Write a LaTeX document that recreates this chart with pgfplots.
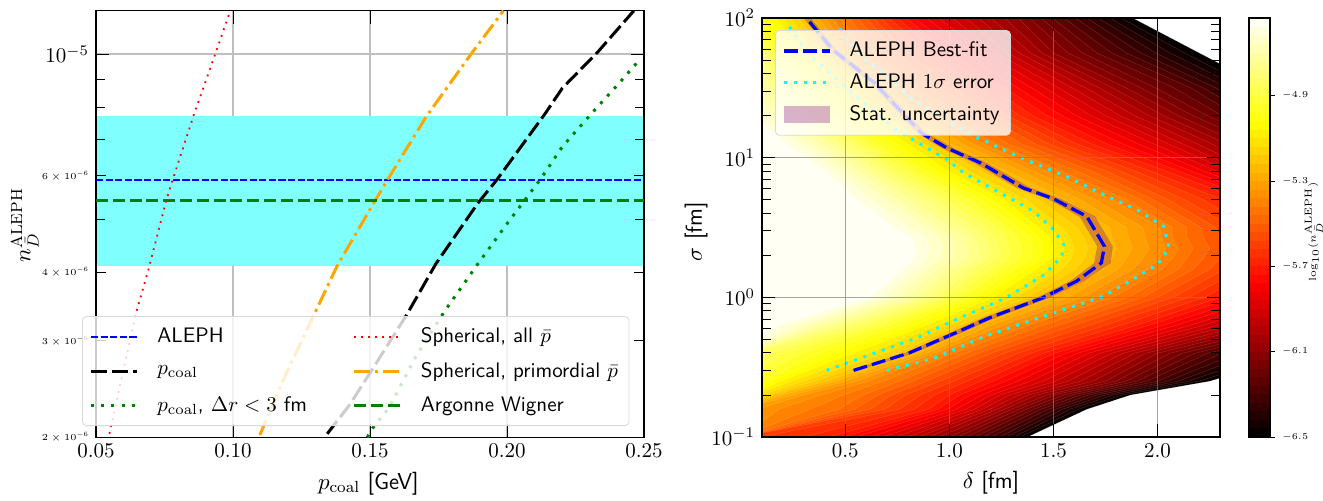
\documentclass[border=0pt]{standalone}
\usepackage{fix-cm}
\usepackage{pgfplots}
\usepackage{pgfplotstable}
\pgfplotsset{compat=1.18}
\definecolor{statcol}{rgb}{.5,0,.5}
\definecolor{bandcyan}{rgb}{.5,1,1}
\definecolor{mplorange}{rgb}{1,.647,0}
\definecolor{mplcyan}{rgb}{0,1,1}
\definecolor{mplgreen}{rgb}{0,.5,0}
\definecolor{mplblue}{rgb}{0,0,1}
\definecolor{mplred}{rgb}{1,0,0}
\newcommand\fs[1]{\fontsize{#1}{#1}\selectfont}
% delta position of each contour level (columns) at each sigma (rows)
\pgfplotstableread[header=false]{
0.1 0 0 0 0 0 0 0 0 0 0 0 0 0 0 0 0 0 0 0 0 0 0 0 0 0 0 0 0 0 0 0 0 0 0 0 0 0 0 0 0 0 0 0 0 0 0 0 0 0
0.1 1.375 1.34 1.31 1.275 1.24 1.20 1.16 1.12 1.08 1.04 1.00 .95 .90 .85 .80 .74 .68 .62 .55 .49 .42 .30 .10 0 0 0 0 0 0 0 0 0 0 0 0 0 0 0 0 0 0 0 0 0 0 0 0 0 0
0.158 1.66 1.62 1.58 1.545 1.51 1.475 1.44 1.405 1.37 1.335 1.30 1.265 1.23 1.195 1.16 1.12 1.08 1.035 .99 .945 .90 .83 .76 .69 .62 .545 .47 .33 .18 .08 0 0 0 0 0 0 0 0 0 0 0 0 0 0 0 0 0 0 0
0.2 1.87 1.83 1.79 1.75 1.71 1.67 1.63 1.59 1.55 1.505 1.47 1.42 1.38 1.335 1.29 1.245 1.20 1.155 1.10 1.05 1.00 .93 .86 .79 .72 .655 .585 .49 .385 .30 .25 .20 .16 .13 .10 .07 .05 .03 .02 0 0 0 0 0 0 0 0 0 0
0.251 2.25 2.20 2.15 2.10 2.05 2.00 1.95 1.90 1.85 1.80 1.75 1.69 1.63 1.57 1.51 1.45 1.39 1.33 1.27 1.21 1.15 1.085 1.02 .955 .89 .825 .76 .685 .61 .555 .50 .455 .41 .355 .30 .245 .19 .145 .10 .05 0 0 0 0 0 0 0 0 0
0.398 2.70 2.62 2.54 2.46 2.38 2.31 2.24 2.18 2.12 2.06 2.00 1.945 1.89 1.835 1.78 1.725 1.67 1.615 1.56 1.505 1.45 1.39 1.33 1.265 1.20 1.14 1.08 1.02 .96 .925 .89 .85 .81 .75 .69 .615 .54 .46 .38 .29 .20 .125 .05 .02 0 0 0 0 0
0.631 3.20 3.12 3.05 3.00 2.95 2.87 2.80 2.74 2.68 2.61 2.55 2.48 2.42 2.35 2.29 2.22 2.16 2.09 2.03 1.96 1.90 1.825 1.75 1.675 1.60 1.525 1.45 1.38 1.31 1.255 1.20 1.15 1.10 1.05 1.00 .945 .89 .83 .77 .71 .65 .59 .53 .47 .41 .355 .30 .24 .18
1 3.60 3.52 3.45 3.40 3.35 3.30 3.25 3.20 3.15 3.07 3.00 2.93 2.86 2.79 2.72 2.65 2.58 2.51 2.44 2.37 2.30 2.225 2.15 2.075 2.00 1.93 1.86 1.785 1.71 1.64 1.57 1.50 1.43 1.375 1.32 1.265 1.21 1.16 1.11 1.065 1.02 .98 .94 .89 .84 .785 .73 .675 .62
1.585 3.80 3.75 3.70 3.65 3.60 3.55 3.50 3.45 3.40 3.35 3.30 3.22 3.15 3.07 3.00 2.92 2.85 2.77 2.70 2.62 2.55 2.47 2.40 2.32 2.25 2.17 2.10 2.02 1.95 1.88 1.81 1.74 1.67 1.605 1.54 1.48 1.42 1.365 1.31 1.255 1.20 1.15 1.10 1.05 1.00 .945 .89 .835 .78
1.9 3.95 3.9 3.85 3.8 3.75 3.7 3.65 3.6 3.55 3.5 3.45 3.35 3.25 3.2 3.15 3.08 3.01 2.92 2.83 2.74 2.66 2.57 2.48 2.39 2.30 2.22 2.14 2.07 2.01 1.93 1.85 1.78 1.71 1.65 1.585 1.535 1.49 1.44 1.39 1.335 1.28 1.23 1.18 1.13 1.08 1.02 .96 .895 .83
2.24 4.00 3.95 3.90 3.85 3.80 3.75 3.70 3.65 3.60 3.55 3.50 3.40 3.30 3.25 3.20 3.13 3.06 2.97 2.88 2.79 2.70 2.61 2.52 2.42 2.33 2.25 2.17 2.10 2.04 1.96 1.88 1.80 1.73 1.665 1.60 1.55 1.50 1.45 1.40 1.345 1.29 1.24 1.19 1.14 1.09 1.03 .97 .905 .84
2.7 3.95 3.9 3.85 3.8 3.75 3.7 3.65 3.6 3.55 3.5 3.45 3.35 3.25 3.2 3.15 3.08 3.01 2.92 2.83 2.74 2.66 2.57 2.48 2.39 2.30 2.22 2.14 2.07 2.02 1.94 1.86 1.78 1.71 1.645 1.58 1.53 1.48 1.43 1.38 1.325 1.27 1.22 1.17 1.12 1.07 1.01 .95 .885 .82
3.16 3.90 3.85 3.80 3.75 3.70 3.65 3.60 3.55 3.50 3.45 3.40 3.32 3.24 3.16 3.08 3.00 2.92 2.84 2.76 2.68 2.60 2.52 2.44 2.36 2.28 2.21 2.14 2.07 2.01 1.93 1.85 1.77 1.69 1.615 1.54 1.485 1.43 1.38 1.33 1.28 1.23 1.175 1.12 1.06 1.00 .94 .88 .81 .74
5.01 3.80 3.72 3.65 3.57 3.50 3.42 3.35 3.27 3.20 3.12 3.05 2.98 2.92 2.85 2.79 2.72 2.66 2.59 2.53 2.46 2.40 2.31 2.22 2.13 2.05 1.98 1.92 1.85 1.78 1.70 1.63 1.56 1.49 1.43 1.37 1.315 1.26 1.205 1.15 1.095 1.04 .985 .93 .87 .81 .75 .69 .625 .56
7.94 3.30 3.23 3.17 3.10 3.04 2.97 2.91 2.84 2.78 2.71 2.65 2.59 2.53 2.47 2.41 2.35 2.29 2.23 2.17 2.11 2.05 1.975 1.90 1.83 1.76 1.69 1.62 1.545 1.47 1.41 1.35 1.28 1.21 1.155 1.10 1.05 1.00 .945 .89 .845 .80 .75 .70 .655 .61 .56 .51 .46 .41
12.6 3.10 3.03 2.96 2.89 2.82 2.75 2.68 2.61 2.54 2.47 2.40 2.33 2.26 2.19 2.12 2.05 1.98 1.905 1.83 1.755 1.68 1.61 1.54 1.475 1.41 1.345 1.28 1.22 1.16 1.11 1.06 1.005 .95 .915 .88 .84 .80 .745 .69 .645 .60 .56 .52 .475 .43 .38 .33 .275 .22
20 2.80 2.73 2.66 2.59 2.52 2.45 2.38 2.31 2.24 2.17 2.10 2.03 1.96 1.89 1.82 1.75 1.68 1.61 1.54 1.47 1.40 1.34 1.28 1.225 1.17 1.115 1.06 1.00 .94 .895 .85 .805 .76 .725 .69 .645 .60 .55 .50 .455 .41 .365 .32 .28 .24 .195 .15 .10 .05
31.6 2.52 2.46 2.40 2.34 2.28 2.22 2.16 2.08 1.99 1.92 1.85 1.785 1.72 1.655 1.59 1.525 1.46 1.395 1.33 1.265 1.20 1.14 1.08 1.02 .96 .905 .85 .80 .75 .725 .70 .67 .64 .59 .54 .495 .45 .405 .36 .325 .29 .255 .22 .18 .14 .10 .06 .03 0
56.2 2.20 2.13 2.06 1.99 1.92 1.85 1.78 1.71 1.64 1.57 1.50 1.445 1.39 1.335 1.28 1.225 1.17 1.115 1.06 1.005 .95 .90 .85 .80 .75 .70 .65 .60 .55 .525 .50 .475 .45 .405 .36 .325 .29 .25 .21 .185 .16 .135 .11 .075 .04 .02 0 0 0
100 1.88 1.825 1.77 1.715 1.66 1.605 1.55 1.495 1.44 1.385 1.33 1.265 1.20 1.14 1.08 1.015 .95 .89 .83 .79 .75 .71 .67 .635 .60 .56 .52 .48 .44 .405 .37 .34 .31 .275 .24 .205 .17 .13 .09 .055 .02 0 0 0 0 0 0 0 0
100 0 0 0 0 0 0 0 0 0 0 0 0 0 0 0 0 0 0 0 0 0 0 0 0 0 0 0 0 0 0 0 0 0 0 0 0 0 0 0 0 0 0 0 0 0 0 0 0 0
}\contab
\newcommand\hotcalc[1]{%
 \pgfmathsetmacro\hr{min(1,(#1)/0.365)}%
 \pgfmathsetmacro\hg{max(0,min(1,((#1)-0.365)/0.381))}%
 \pgfmathsetmacro\hb{max(0,min(1,((#1)-0.746)/0.254))}}
\pgfplotsset{
 commonax/.style={scale only axis, tick align=inside,
  major tick length=6.5pt, minor tick length=4.5pt,
  tick style={black,line width=.45pt}, axis line style={line width=.6pt},
  tick label style={font=\fs{10.5}}, label style={font=\fs{11.5}},
  legend image code/.code={\draw[##1] (0pt,0pt) -- (23pt,0pt);}},
}
\begin{document}
\begin{tikzpicture}
\path[use as bounding box] (0,0) rectangle (661.5pt,250pt);
% left: background with grid and band
\begin{axis}[at={(48pt,31.35pt)},anchor=south west,scale only axis,width=274pt,height=213.3pt,
 xmin=0.05,xmax=0.25,ymin=2e-6,ymax=1.2e-5,ymode=log,
 xtick={0.10,0.15,0.20},ytick={1e-5},minor ytick={},
 xticklabels={},yticklabels={},major tick length=0pt,minor tick length=0pt,
 grid=major,major grid style={black!25,line width=.7pt},axis line style={draw=none}]
\addplot[fill=bandcyan,draw=none] coordinates {(0.05,4.1e-6)(0.25,4.1e-6)(0.25,7.72e-6)(0.05,7.72e-6)} -- cycle;
\end{axis}
% left: curves
\begin{axis}[commonax,at={(48pt,31.35pt)},anchor=south west,width=274pt,height=213.3pt,
 xmin=0.05,xmax=0.25,ymin=2e-6,ymax=1.2e-5,ymode=log,
 xtick={0.05,0.10,0.15,0.20,0.25},
 xticklabel style={/pgf/number format/fixed,/pgf/number format/fixed zerofill,/pgf/number format/precision=2},
 ytick={1e-5},minor ytick={5e-6,7e-6,8e-6,9e-6},
 extra y ticks={2e-6,3e-6,4e-6,6e-6},
 extra y tick labels={$2\times10^{-6}$,$3\times10^{-6}$,$4\times10^{-6}$,$6\times10^{-6}$},
 extra y tick style={yticklabel style={font=\fs{4.6}},major tick length=5pt},
 xlabel={$p_{\mathrm{coal}}$ {\sffamily [GeV]}},
 ylabel={$n_{\bar{D}}^{\mathrm{ALEPH}}$},
 xlabel style={at={(axis description cs:0.497,-0.108)},anchor=center},
 ylabel style={at={(axis description cs:-0.13,0.497)},anchor=center},
 legend columns=2,legend cell align=left,
 legend style={at={(-0.0255,0.0265)},anchor=south west,font=\sffamily\fs{10.5},
  draw=black!15,fill=white,fill opacity=.8,text opacity=1,draw opacity=1,rounded corners=2pt,
  inner xsep=3.5pt,inner ysep=3.6pt,row sep=4.2pt,
  /tikz/every odd column/.append style={column sep=7.5pt},
  /tikz/every even column/.append style={column sep=21pt}},
]
\addplot[forget plot,mplblue,line width=.75pt,dash pattern=on 3.6pt off 1.2pt] coordinates {(0.05,5.9e-6)(0.25,5.9e-6)};
\addplot[forget plot,black,line width=1.5pt,dash pattern=on 8pt off 2.6pt] coordinates {(.1344,2.03e-6)(.1425,2.29e-6)(.1502,2.63e-6)(.1633,3.34e-6)(.1741,4.15e-6)(.1894,5.35e-6)(.1963,5.9e-6)(.2140,7.8e-6)(.2202,8.67e-6)(.2332,1.01e-5)(.2463,1.2e-5)};
\addplot[forget plot,mplgreen,line width=1.5pt,dash pattern=on 1.5pt off 3.6pt] coordinates {(.1490,2.0e-6)(.1510,2.08e-6)(.1571,2.27e-6)(.1664,2.79e-6)(.1771,3.39e-6)(.1887,4.10e-6)(.2002,4.92e-6)(.2125,5.94e-6)(.2202,6.78e-6)(.2309,7.8e-6)(.2402,8.77e-6)(.2489,9.83e-6)};
\addplot[forget plot,mplred,line width=.9pt,dash pattern=on .9pt off 2.6pt] coordinates {(.0549,2.03e-6)(.0646,3.37e-6)(.0691,4.04e-6)(.0757,5.42e-6)(.0780,5.9e-6)(.0857,7.75e-6)(.0934,9.97e-6)(.0990,1.2e-5)};
\addplot[forget plot,mplorange,line width=1.5pt,dash pattern=on 8pt off 2.4pt on 1.5pt off 2.4pt] coordinates {(.1098,2.02e-6)(.1195,2.62e-6)(.1295,3.34e-6)(.1379,4.10e-6)(.1502,5.23e-6)(.1564,5.9e-6)(.1705,7.69e-6)(.1871,1.004e-5)(.1987,1.2e-5)};
\addplot[forget plot,mplgreen,line width=1.5pt,dash pattern=on 6pt off 2.4pt] coordinates {(0.05,5.4e-6)(0.25,5.4e-6)};
\addlegendimage{mplblue,line width=.75pt,dash pattern=on 3.6pt off 1.2pt}\addlegendentry{ALEPH}
\addlegendimage{mplred,line width=.9pt,dash pattern=on .9pt off 2.6pt}\addlegendentry{Spherical, all $\bar{p}$}
\addlegendimage{black,line width=1.5pt,dash pattern=on 8pt off 2.6pt}\addlegendentry{$p_{\mathrm{coal}}$}
\addlegendimage{mplorange,line width=1.5pt,dash pattern=on 8pt off 2.4pt on 1.5pt off 2.4pt}\addlegendentry{Spherical, primordial $\bar{p}$}
\addlegendimage{mplgreen,line width=1.5pt,dash pattern=on 1.5pt off 3.6pt}\addlegendentry{$p_{\mathrm{coal}}$, $\Delta r<3$ fm}
\addlegendimage{mplgreen,line width=1.5pt,dash pattern=on 6pt off 2.4pt}\addlegendentry{Argonne Wigner}
\end{axis}
% right: contours
\begin{axis}[commonax,axis on top,at={(381pt,31.5pt)},anchor=south west,width=229pt,height=209.5pt,
 xmin=0.1,xmax=2.3,ymin=0.1,ymax=100,ymode=log,
 xtick={0.5,1.0,1.5,2.0},
 xticklabel style={/pgf/number format/fixed,/pgf/number format/fixed zerofill,/pgf/number format/precision=1},
 grid=major,major grid style={gray,line width=.7pt,opacity=.7},
 xlabel={$\delta$ {\sffamily [fm]}},ylabel={$\sigma$ {\sffamily [fm]}},
 xlabel style={at={(axis description cs:0.5,-0.11)},anchor=center},
 ylabel style={at={(axis description cs:-0.144,0.49)},anchor=center},
 legend cell align=left,
 legend style={at={(0.0284,0.971)},anchor=north west,font=\sffamily\fs{10.5},
  draw=black!15,fill=white,fill opacity=.8,text opacity=1,draw opacity=1,rounded corners=2pt,
  inner xsep=3.5pt,inner ysep=3.8pt,row sep=3pt,
  /tikz/every odd column/.append style={column sep=7pt}},
]
\pgfplotsforeachungrouped \i in {1,...,49}{%
 \pgfmathsetmacro\tv{(\i-0.5)*0.04/1.964}%
 \hotcalc{\tv}%
 \edef\tmp{\noexpand\addplot[forget plot,fill={rgb,1:red,\hr;green,\hg;blue,\hb},draw=white,draw opacity=.2,line width=.15pt] table[x index=\i,y index=0] {\noexpand\contab};}\tmp
}
\addplot[forget plot,fill=statcol,fill opacity=.3,draw=none] coordinates {(.56,.30)(.83,.399)(1.04,.541)(1.22,.711)(1.48,.989)(1.645,1.303)(1.775,1.762)(1.785,2.317)(1.70,3.80)(1.535,5.08)(1.39,6.07)(1.18,9.16)(1.02,11.7)(.89,15)(.66,34.3)(.46,59.3)(.335,100)(.30,100)(.42,59.3)(.62,34.3)(.845,15)(.965,11.7)(1.12,9.16)(1.325,6.07)(1.47,5.08)(1.625,3.80)(1.71,2.317)(1.695,1.762)(1.58,1.303)(1.415,.989)(1.16,.711)(.985,.541)(.785,.399)(.53,.30)} -- cycle;
\addplot[forget plot,mplblue,line width=1.6pt,dash pattern=on 7pt off 2.6pt] coordinates {(.54,.30)(.805,.399)(1.01,.541)(1.19,.711)(1.446,.989)(1.61,1.303)(1.73,1.762)(1.745,2.317)(1.66,3.80)(1.50,5.08)(1.355,6.07)(1.15,9.16)(.99,11.7)(.866,15)(.64,34.3)(.44,59.3)(.317,98.4)(.31,100)};
\addplot[forget plot,mplcyan,line width=1.5pt,dash pattern=on 1.5pt off 3.4pt] coordinates {(.41,.30)(.62,.389)(.846,.513)(1.03,.692)(1.27,.989)(1.456,1.452)(1.54,1.968)(1.55,2.382)(1.50,3.05)(1.405,4.13)(1.23,5.74)(1.07,7.76)(.99,9.68)(.745,15.8)(.5,32)(.32,56)(.225,89.5)};
\addplot[forget plot,mplcyan,line width=1.5pt,dash pattern=on 1.5pt off 3.4pt] coordinates {(.70,.30)(.93,.368)(1.17,.526)(1.50,.773)(1.74,1.016)(2.0,1.714)(2.055,2.254)(2.03,3.22)(1.90,4.25)(1.76,5.28)(1.56,7.35)(1.33,10.2)(1.09,15)(.826,26)(.58,53.2)(.45,92)};
\addlegendimage{mplblue,line width=1.6pt,dash pattern=on 7pt off 2.6pt}\addlegendentry{ALEPH Best-fit}
\addlegendimage{mplcyan,line width=1.5pt,dash pattern=on 1.5pt off 3.4pt}\addlegendentry{ALEPH $1\sigma$ error}
\addlegendimage{legend image code/.code={\fill[statcol,fill opacity=.3,draw=none,sharp corners] (0pt,-4pt) rectangle (23pt,4.2pt);}}\addlegendentry{Stat. uncertainty}
\end{axis}
% colour bar
\begin{axis}[scale only axis,at={(624.5pt,31.5pt)},anchor=south west,width=10.5pt,height=209.5pt,
 xmin=0,xmax=1,ymin=-6.5,ymax=-4.536,xtick=\empty,
 ytick={-6.5,-6.1,-5.7,-5.3,-4.9},ytick pos=right,yticklabel pos=right,tick align=outside,
 major tick length=2.5pt,tick style={black,line width=.4pt},axis line style={line width=.6pt},
 yticklabel style={font=\fs{4.5},/pgf/number format/fixed,/pgf/number format/fixed zerofill,/pgf/number format/precision=1},
 ylabel={$\log_{10}(n_{\bar{D}}^{\mathrm{ALEPH}})$},
 ylabel style={font=\fs{5},at={(axis description cs:3.1,0.49)},anchor=center},
 axis on top]
\pgfplotsforeachungrouped \i in {1,...,49}{%
 \pgfmathsetmacro\tv{(\i-0.5)*0.04/1.964}%
 \hotcalc{\tv}%
 \pgfmathsetmacro\La{-6.5+(\i-1)*0.04}%
 \pgfmathsetmacro\Lb{-6.5+\i*0.04}%
 \edef\tmp{\noexpand\addplot[forget plot,fill={rgb,1:red,\hr;green,\hg;blue,\hb},draw=none] coordinates {(0,\La)(1,\La)(1,\Lb)(0,\Lb)} -- cycle;}\tmp
}
\end{axis}
\end{tikzpicture}
\end{document}
